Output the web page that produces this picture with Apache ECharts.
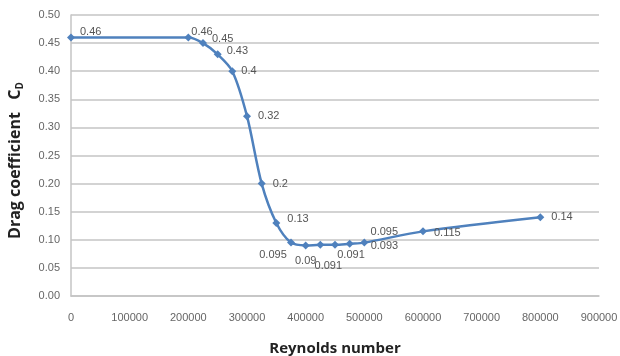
<!DOCTYPE html>
<html>
<head>
<meta charset="utf-8">
<script src="https://cdn.jsdelivr.net/npm/echarts@6/dist/echarts.min.js"></script>
<style>
  html, body { margin: 0; padding: 0; background: #fff; }
  #chart { width: 620px; height: 356px; }
</style>
</head>
<body>
<div id="chart"></div>
<script>
// Reynolds number (x) and drag coefficient (y) of a sphere
const reynolds = [0, 200000, 225000, 250000, 275000, 300000, 325000, 350000, 375000,
                  400000, 425000, 450000, 475000, 500000, 600000, 800000];
const dragCoef = [0.46, 0.46, 0.45, 0.43, 0.40, 0.32, 0.20, 0.13, 0.095,
                  0.09, 0.091, 0.091, 0.093, 0.095, 0.115, 0.14];
const valueLabels = ['0.46', '0.46', '0.45', '0.43', '0.4', '0.32', '0.2', '0.13', '0.095',
                     '0.09', '0.091', '0.091', '0.093', '0.095', '0.115', '0.14'];

// label placement per point, [position, offset]
const labelPlacement = {
  0: ['right', [0, -6]],
  1: ['right', [-6, -6]],
  2: ['right', [0, -4]],
  3: ['right', [0, -3]],
  4: ['right', [0, 0]],
  5: ['right', [2, 0]],
  6: ['right', [2, 0]],
  7: ['right', [2, -4]],
  8: ['bottom', [-18, -2]],
  9: ['bottom', [0, 1]],
  10: ['bottom', [8, 7]],
  11: ['bottom', [16, -4]],
  12: ['right', [12, 2]],
  13: ['top', [20, 4]],
  14: ['right', [2, 2]],
  15: ['right', [2, 0]]
};

const points = reynolds.map((x, i) => {
  const p = labelPlacement[i];
  return {
    value: [x, dragCoef[i]],
    label: { position: p[0], offset: p[1], formatter: valueLabels[i] }
  };
});

const chart = echarts.init(document.getElementById('chart'));
chart.setOption({
  animation: false,
  grid: { left: 71, right: 21, top: 15, bottom: 60, containLabel: false, outerBoundsMode: 'none' },
  xAxis: {
    type: 'value',
    min: 0, max: 900000, interval: 100000,
    name: 'Reynolds number',
    nameLocation: 'middle',
    nameGap: 45,
    nameTextStyle: { fontFamily: 'Open Sans', fontWeight: 'bold', fontSize: 15, color: '#222' },
    axisLine: { show: true, lineStyle: { color: '#c4c4c4', width: 1.5 } },
    axisTick: { show: false },
    axisLabel: { color: '#666', fontSize: 11, fontFamily: 'Liberation Sans', margin: 16, formatter: v => String(v) },
    splitLine: { show: false }
  },
  yAxis: {
    type: 'value',
    min: 0, max: 0.5, interval: 0.05,
    name: 'Drag coefficient   C{sub|D}',
    nameLocation: 'middle',
    nameGap: 46,
    nameTextStyle: {
      fontFamily: 'Open Sans', fontWeight: 'bold', fontSize: 16, color: '#222',
      padding: [0, 10, 0, 0],
      rich: { sub: { fontFamily: 'Open Sans', fontWeight: 'bold', fontSize: 10, color: '#222', verticalAlign: 'bottom', padding: [10, 0, 0, 0] } }
    },
    axisLine: { show: true, lineStyle: { color: '#c4c4c4', width: 1.5 } },
    axisTick: { show: false },
    axisLabel: { color: '#666', fontSize: 11, fontFamily: 'Liberation Sans', margin: 11, formatter: v => v.toFixed(2) },
    splitLine: { show: true, lineStyle: { color: '#c4c4c4', width: 1.5 } }
  },
  series: [{
    type: 'line',
    data: points,
    smooth: 0.3,
    symbol: 'diamond',
    symbolSize: 8,
    lineStyle: { color: '#4f81bd', width: 2.5 },
    itemStyle: { color: '#4f81bd' },
    label: { show: true, color: '#555', fontSize: 11, fontFamily: 'Liberation Sans' }
  }]
});
</script>
</body>
</html>
